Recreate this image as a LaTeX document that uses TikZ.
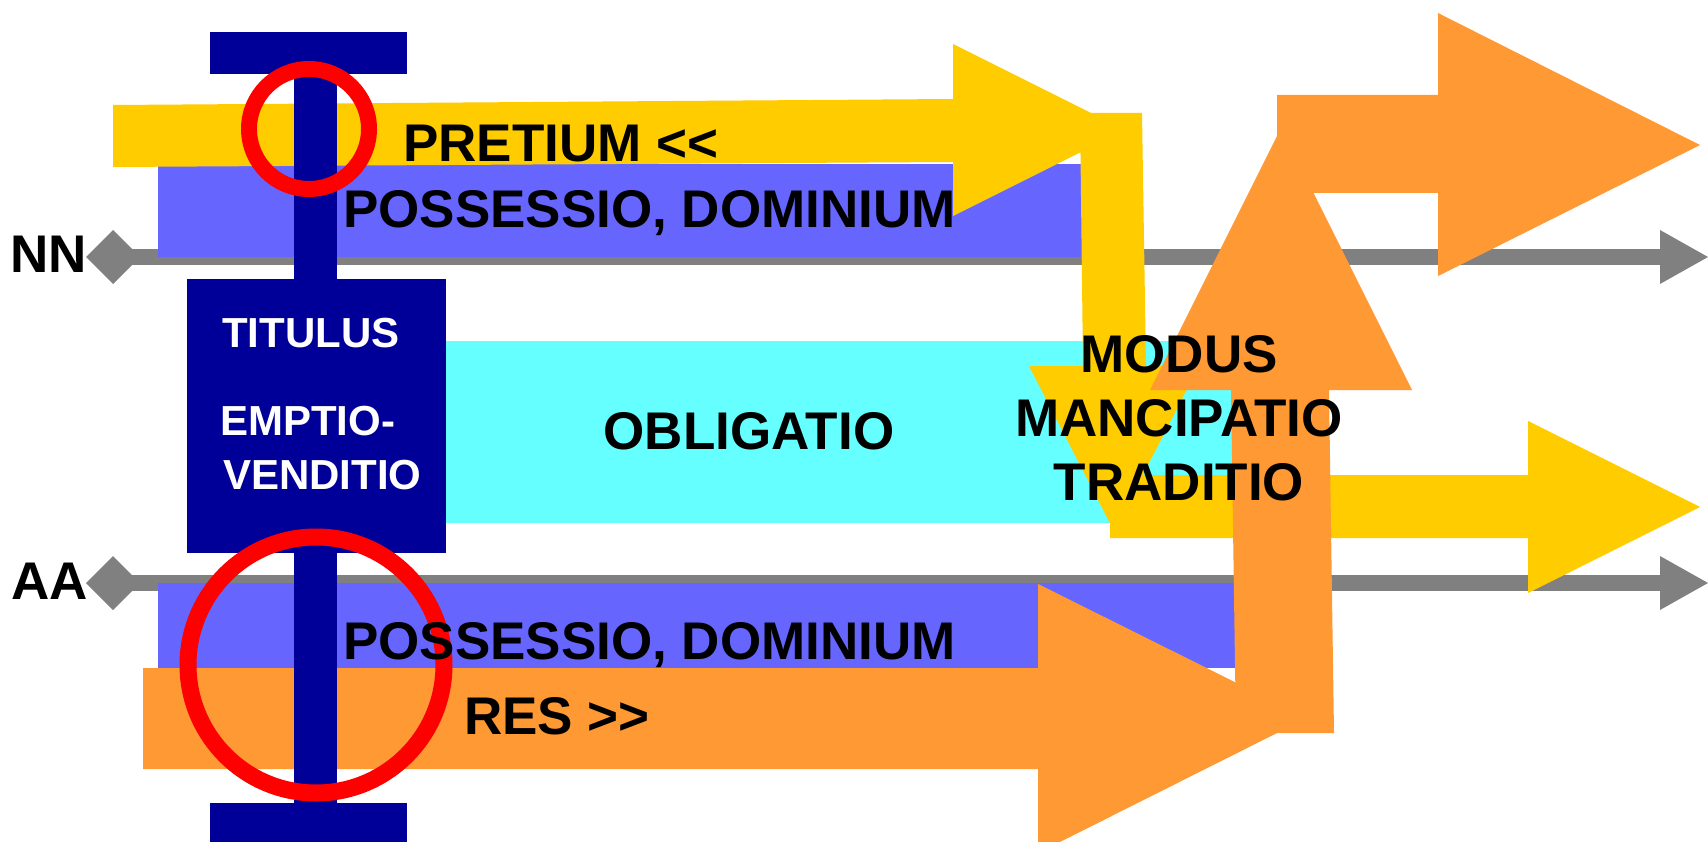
\documentclass[tikz,border=0pt]{standalone}
\usepackage{fontspec}
\setmainfont{Liberation Sans}
\definecolor{cyel}{HTML}{FFCC00}
\definecolor{corg}{HTML}{FF9933}
\definecolor{cper}{HTML}{6666FF}
\definecolor{ccyan}{HTML}{66FFFF}
\definecolor{cnavy}{HTML}{000099}
\definecolor{cgrey}{HTML}{808080}
\begin{document}
\begin{tikzpicture}[x=1pt,y=-1pt,
  lbl/.style={inner sep=0pt, font=\fontsize{53}{60}\selectfont\bfseries},
  wlbl/.style={inner sep=0pt, text=white, font=\fontsize{42}{50}\selectfont\bfseries},
  greyline/.style={draw=cgrey, line width=16pt},
  ring/.style={draw=red, line width=16pt}]
\useasboundingbox[fill=white] (0,0) rectangle (1708,842);
\clip (0,0) rectangle (1708,842);

% grey time lines NN and AA
\coordinate (nnstart) at (113,257); \coordinate (nnend) at (1662,257);
\coordinate (aastart) at (113,583); \coordinate (aaend) at (1662,583);
\draw[greyline] (nnstart) -- (nnend);
\draw[greyline] (aastart) -- (aaend);
\fill[cgrey] (86,257) -- (113,230) -- (140,257) -- (113,284) -- cycle;
\fill[cgrey] (1660,230) -- (1708,257) -- (1660,284) -- cycle;
\fill[cgrey] (86,583) -- (113,556) -- (140,583) -- (113,610) -- cycle;
\fill[cgrey] (1660,556) -- (1708,583) -- (1660,610) -- cycle;

% obligatio band
\fill[ccyan] (446,341) rectangle (1232,523);

% possessio bands
\fill[cper] (158,164) rectangle (1100,257);
\fill[cper] (158,583) rectangle (1240,668);

% yellow pretium arrow
\fill[cyel] (113,105) -- (953,99) -- (953,44) -- (1125,130) -- (953,216) -- (953,162) -- (113,167) -- cycle;

% orange res arrow
\fill[corg] (143,668) -- (1038,668) -- (1038,584) -- (1307,718) -- (1038,853) -- (1038,769) -- (143,769) -- cycle;

% yellow down arrow
\fill[cyel] (1080,113) -- (1142,113) -- (1146,366) -- (1199,366) -- (1114,531) -- (1029,366) -- (1083,366) -- cycle;
% yellow lower right arrow
\fill[cyel] (1110,475) -- (1528,475) -- (1528,421) -- (1700,507) -- (1528,593) -- (1528,538) -- (1110,538) -- cycle;

% orange up arrow and upper right arrow
\fill[corg] (1236,733) -- (1231,390) -- (1150,390) -- (1281,128) -- (1412,390) -- (1329,390) -- (1334,733) -- cycle;
\fill[corg] (1277,95) -- (1438,95) -- (1438,13) -- (1700,145) -- (1438,276) -- (1438,193) -- (1277,193) -- cycle;

% navy T and titulus box
\fill[cnavy] (210,32) rectangle (407,74);
\fill[cnavy] (294,74) rectangle (337,279);
\fill[cnavy] (187,279) rectangle (446,553);
\fill[cnavy] (294,553) rectangle (337,803);
\fill[cnavy] (210,803) rectangle (407,842);

% red rings
\draw[ring] (309,129) circle[radius=60];
\draw[ring, line width=17pt] (316,665) circle[radius=128];

% labels
\node[lbl, anchor=base west] (nn) at (10,273) {NN};
\node[lbl, anchor=base west] (aa) at (11,599) {AA};
\node[lbl, anchor=base west] (pretium) at (403,162) {PRETIUM <\kern0pt<};
\node[lbl, anchor=base west] (posstop) at (343,228) {POSSESSIO, DOMINIUM};
\node[lbl, anchor=base west] (possbot) at (343,659) {POSSESSIO, DOMINIUM};
\node[lbl, anchor=base west] (res) at (464,734) {RES >\kern0pt>};
\node[lbl, anchor=base] (oblig) at (749,449) {OBLIGATIO};
\node[wlbl, anchor=base west] (tit) at (222,347) {TITULUS};
\node[wlbl, anchor=base west] (empt) at (220,435) {EMPTIO-};
\node[wlbl, anchor=base west] (vend) at (223,489) {VENDITIO};
\node[lbl, anchor=base] (modus) at (1179,372) {MODUS};
\node[lbl, anchor=base] (mancip) at (1179,436) {MANCIPATIO};
\node[lbl, anchor=base] (tradit) at (1179,500) {TRADITIO};
\end{tikzpicture}
\end{document}
